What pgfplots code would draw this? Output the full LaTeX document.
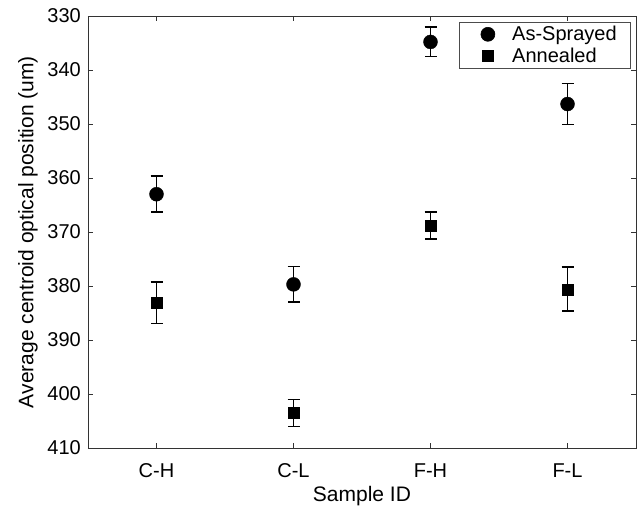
\documentclass[border=0pt]{standalone}
\usepackage{pgfplots}
\pgfplotsset{compat=1.18}
\usepackage{pgfplotstable}
\usepackage{fontspec}
\setmainfont{Liberation Sans}

% as-sprayed and annealed centroid positions, x = sample index
\pgfplotstableread{
x y err
0 363.0 3.3
1 379.7 3.3
2 334.8 2.7
3 346.3 3.8
}\sprayed
\pgfplotstableread{
x y err
0 383.1 3.85
1 403.5 2.5
2 368.8 2.5
3 380.6 4.1
}\annealed

\begin{document}
\begin{tikzpicture}
\begin{axis}[
scale only axis,
width=548pt, height=432pt,
xmin=-0.5, xmax=3.5,
ymin=330, ymax=410,
y dir=reverse,
ytick distance=10,
xtick=data,
xticklabels={C-H,C-L,F-H,F-L},
tick align=inside,
major tick length=5pt,
axis line style={black!80, line width=0.8pt},
tick style={black!80, line width=0.8pt},
/pgf/number format/assume math mode=true,
ticklabel style={font=\fontsize{20}{22}\selectfont},
yticklabel style={inner sep=1pt, xshift=-6pt},
xticklabel style={anchor=base, yshift=-29pt},
label style={font=\fontsize{21}{23}\selectfont},
xlabel={Sample ID},
xlabel style={at={(axis description cs:0.5,0)}, anchor=base, yshift=-53pt},
ylabel={Average centroid optical position (um)},
ylabel style={at={(axis description cs:0,0.5)}, anchor=center, yshift=60pt},
legend style={at={(rel axis cs:1,1)}, xshift=-5pt, yshift=-6pt, anchor=north east,
  draw=black!70, line width=0.6pt, font=\fontsize{20}{22}\selectfont,
  row sep=2pt, inner xsep=12pt, inner ysep=2pt},
legend cell align=left,
legend image code/.code={\path (0pt,0pt) (28pt,0pt); \draw[#1] plot coordinates {(16pt,0pt)};},
error bars/error bar style={line width=1.8pt},
error bars/error mark options={rotate=90, mark size=6pt, line width=1.8pt},
]
\addplot[black, only marks, mark=*, mark size=7pt,
  error bars/.cd, y dir=both, y explicit]
  table[x=x, y=y, y error=err] {\sprayed};
\addplot[black, only marks, mark=square*, mark size=5.5pt,
  error bars/.cd, y dir=both, y explicit]
  table[x=x, y=y, y error=err] {\annealed};
\legend{\enspace As-Sprayed, \enspace Annealed}
\end{axis}
\pgfresetboundingbox
\path[use as bounding box] ([shift={(-88pt,-60pt)}]current axis.south west)
  rectangle ([shift={(5pt,16pt)}]current axis.north east);
\end{tikzpicture}
\end{document}
